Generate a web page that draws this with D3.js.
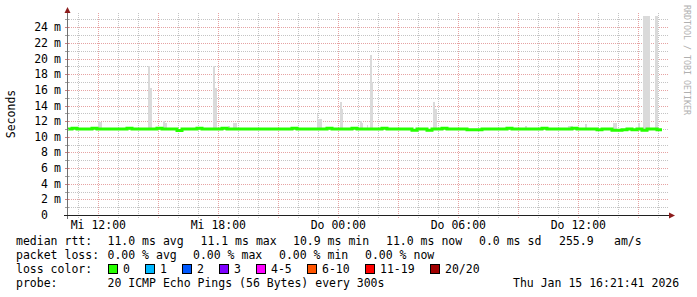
<!DOCTYPE html>
<html>
<head>
<meta charset="utf-8" />
<style>
    body { margin: 0; background: #fff; }
    svg { display: block; }
    text {
        font-family: "DejaVu Sans Mono", monospace;
        font-size: 11.5px;
        fill: #000;
    }
    .grid-minor { stroke: #c4c4c4; stroke-dasharray: 1,1; shape-rendering: crispEdges; }
    .grid-major { stroke: #e6a3a3; stroke-dasharray: 1,1; shape-rendering: crispEdges; }
    .watermark { font-size: 8.3px; fill: #b0b0b0; }
</style>
</head>
<body>
<div id="chart"></div>
<script src="https://d3js.org/d3.v7.min.js"></script>
<script>
    // median rtt (ms), one value every 15 minutes from the start of the graph
    var medianStart = Date.UTC(2026, 0, 14, 10, 26);
    var medianStepMin = 15;
    var medianRtt = [
        11.0, 11.1, 11.0, 11.0, 11.0, 11.1, 11.0, 11.0, 11.0, 11.0,
        11.0, 11.0, 11.1, 11.0, 11.0, 11.0, 11.0, 11.0, 11.1, 11.0,
        11.0, 11.0, 10.8, 11.0, 11.0, 11.0, 11.1, 11.0, 11.0, 11.0,
        11.0, 11.1, 11.0, 11.0, 11.0, 11.0, 11.0, 11.0, 11.0, 11.0,
        11.0, 11.0, 11.0, 11.0, 11.0, 11.1, 11.0, 11.0, 11.0, 11.0,
        11.0, 11.0, 11.1, 11.0, 11.0, 11.0, 11.0, 11.1, 11.0, 11.0,
        11.0, 11.0, 11.0, 11.1, 11.0, 11.0, 11.0, 11.0, 11.0, 10.85,
        11.0, 11.0, 10.85, 11.0, 11.0, 11.1, 11.0, 11.0, 11.0, 11.0,
        10.9, 10.9, 10.9, 11.0, 11.0, 11.0, 11.0, 11.0, 11.1, 11.0,
        11.0, 11.0, 11.0, 11.0, 11.0, 11.1, 11.0, 11.0, 11.0, 11.0,
        11.0, 11.1, 11.0, 11.0, 11.0, 11.0, 10.9, 11.0, 11.0, 10.85,
        10.85, 10.9, 11.0, 10.9, 11.0, 10.85, 11.0, 11.0, 10.9
    ];

    // smoke (spread of the 20 pings) where it sticks out of the median line
    var smokeTimes = [
        '2026-01-14T12:00', '2026-01-14T12:05', '2026-01-14T14:30', '2026-01-14T14:35',
        '2026-01-14T15:15', '2026-01-14T15:20', '2026-01-14T17:45', '2026-01-14T17:50',
        '2026-01-14T18:30', '2026-01-14T18:45', '2026-01-14T18:50', '2026-01-14T22:55',
        '2026-01-14T23:00', '2026-01-14T23:05', '2026-01-15T00:05', '2026-01-15T00:10',
        '2026-01-15T01:05', '2026-01-15T01:10', '2026-01-15T01:25', '2026-01-15T01:35',
        '2026-01-15T01:40', '2026-01-15T04:45', '2026-01-15T04:50', '2026-01-15T09:20',
        '2026-01-15T11:30', '2026-01-15T11:35', '2026-01-15T11:40', '2026-01-15T12:20',
        '2026-01-15T13:45', '2026-01-15T13:50', '2026-01-15T15:00', '2026-01-15T15:15',
        '2026-01-15T15:20', '2026-01-15T15:25', '2026-01-15T15:30', '2026-01-15T15:50',
        '2026-01-15T15:55'
    ];
    var smokeHigh = [
        12.0, 11.9, 19.0, 16.2,
        12.0, 11.7, 19.0, 16.2,
        11.4, 11.7, 11.7, 12.9,
        12.3, 12.3, 14.5, 13.6,
        12.0, 11.7, 11.5, 20.5,
        17.0, 14.4, 13.6, 11.4,
        11.4, 11.4, 11.4, 11.6,
        11.7, 11.7, 11.7, 25.5,
        25.5, 25.5, 25.5, 25.5,
        25.5
    ];
    var smokeLow = 10.9;

    var yTicks = [0, 2, 4, 6, 8, 10, 12, 14, 16, 18, 20, 22, 24];
    var dayNames = ['So', 'Mo', 'Di', 'Mi', 'Do', 'Fr', 'Sa'];

    var statRows = [
        { y: 245, items: [[16, 'median rtt:'], [107.5, '11.0 ms avg'], [200.5, '11.1 ms max'],
            [293, '10.9 ms min'], [386, '11.0 ms now'], [479, '0.0 ms sd'], [559, '255.9'], [614, 'am/s']] },
        { y: 259, items: [[16, 'packet loss:'], [107.5, '0.00 % avg'], [193, '0.00 % max'],
            [279, '0.00 % min'], [365, '0.00 % now']] },
        { y: 273, items: [[16, 'loss color:']] },
        { y: 287, items: [[16, 'probe:'], [107.5, '20 ICMP Echo Pings (56 Bytes) every 300s'],
            [513, 'Thu Jan 15 16:21:41 2026']] }
    ];
    var lossLabels = ['0', '1', '2', '3', '4-5', '6-10', '11-19', '20/20'];
    var lossColors = ['#26ff00', '#00b8ff', '#0059ff', '#7e00ff', '#ff00ff', '#ff5500', '#ff0000', '#a10000'];
    var lossBoxX = [108, 145, 182, 219, 256, 307, 365, 430];

(function(d3) {
    'use strict';

    var width = 697, height = 297;
    var plotLeft = 67, plotRight = 667, plotBottom = 215, plotTop = 14;

    var svg = d3.select('#chart').append('svg')
        .attr('width', width)
        .attr('height', height);

    var x = d3.scaleUtc()
        .domain([new Date(Date.UTC(2026, 0, 14, 10, 26)), new Date(Date.UTC(2026, 0, 15, 16, 26))])
        .range([plotLeft, plotRight]);
    var y = d3.scaleLinear()
        .domain([0, 25.7])
        .range([plotBottom, plotTop]);

    function px(v) { return Math.round(v) + 0.5; }

    // horizontal grid, 1 ms minor / 2 ms major
    svg.append('g').selectAll('line')
        .data(d3.range(1, 26))
        .enter().append('line')
        .attr('class', function(d) { return d % 2 === 0 ? 'grid-major' : 'grid-minor'; })
        .attr('x1', plotLeft).attr('x2', plotRight + 2)
        .attr('y1', function(d) { return px(y(d)); })
        .attr('y2', function(d) { return px(y(d)); });

    // vertical grid, hourly minor / 3 hours major
    var hours = d3.utcHour.range(x.domain()[0], x.domain()[1]);
    svg.append('g').selectAll('line')
        .data(hours)
        .enter().append('line')
        .attr('class', function(d) { return d.getUTCHours() % 3 === 0 ? 'grid-major' : 'grid-minor'; })
        .attr('x1', function(d) { return px(x(d)); })
        .attr('x2', function(d) { return px(x(d)); })
        .attr('y1', plotTop - 1).attr('y2', plotBottom + 3);

    // smoke
    svg.append('clipPath').attr('id', 'clip')
        .append('rect')
        .attr('x', plotLeft).attr('y', plotTop)
        .attr('width', plotRight - plotLeft).attr('height', plotBottom - plotTop);
    var plot = svg.append('g').attr('clip-path', 'url(#clip)');

    plot.selectAll('rect.smoke')
        .data(smokeTimes)
        .enter().append('rect')
        .attr('class', 'smoke')
        .attr('x', function(d) { return x(new Date(d + 'Z')); })
        .attr('width', function(d) {
            var t = new Date(d + 'Z');
            return x(d3.utcMinute.offset(t, 5)) - x(t);
        })
        .attr('y', function(d, i) { return y(smokeHigh[i]); })
        .attr('height', function(d, i) { return y(smokeLow) - y(smokeHigh[i]); })
        .attr('fill', '#dadada')
        .attr('shape-rendering', 'crispEdges');

    // median line, coloured by loss (no loss -> green)
    var medianPts = medianRtt.map(function(v, i) {
        return { t: new Date(medianStart + i * medianStepMin * 60000), v: v };
    });
    medianPts.push({
        t: new Date(medianStart + medianRtt.length * medianStepMin * 60000),
        v: medianRtt[medianRtt.length - 1]
    });
    var line = d3.line()
        .x(function(d) { return x(d.t); })
        .y(function(d) { return y(d.v); })
        .curve(d3.curveStepAfter);
    plot.append('path')
        .datum(medianPts)
        .attr('d', line)
        .attr('fill', 'none')
        .attr('stroke', lossColors[0])
        .attr('stroke-width', 3);

    // y axis ticks
    svg.append('g').selectAll('line')
        .data(d3.range(1, 26))
        .enter().append('line')
        .attr('x1', plotLeft - 2).attr('x2', plotLeft + 2)
        .attr('y1', function(d) { return px(y(d)); })
        .attr('y2', function(d) { return px(y(d)); })
        .attr('stroke', function(d) { return d % 2 === 0 ? '#d08080' : '#a0a0a0'; })
        .attr('shape-rendering', 'crispEdges');

    // axes
    svg.append('line')
        .attr('x1', px(plotLeft)).attr('x2', px(plotLeft))
        .attr('y1', plotBottom + 4).attr('y2', 10)
        .attr('stroke', '#707070').attr('shape-rendering', 'crispEdges');
    svg.append('line')
        .attr('x1', plotLeft - 3).attr('x2', 671)
        .attr('y1', px(plotBottom)).attr('y2', px(plotBottom))
        .attr('stroke', '#202020').attr('shape-rendering', 'crispEdges');
    svg.append('path')
        .attr('d', 'M' + (plotLeft + 0.5) + ',7 L' + (plotLeft + 3.5) + ',13 L' + (plotLeft - 2.5) + ',13 Z')
        .attr('fill', '#8c1c1c');
    svg.append('path')
        .attr('d', 'M675,' + (plotBottom + 0.5) + ' L669,' + (plotBottom - 2.5) + ' L669,' + (plotBottom + 3.5) + ' Z')
        .attr('fill', '#8c1c1c');

    // y labels
    var yl = svg.append('g').selectAll('g')
        .data(yTicks)
        .enter().append('g')
        .attr('transform', function(d) { return 'translate(0,' + (y(d) + 4) + ')'; });
    yl.append('text')
        .attr('x', 48)
        .attr('text-anchor', 'end')
        .text(function(d) { return d; });
    yl.filter(function(d) { return d !== 0; })
        .append('text')
        .attr('x', 54)
        .text('m');

    // x labels every 6 hours
    var labelTimes = d3.utcHour.every(6).range(x.domain()[0], x.domain()[1]);
    svg.append('g').selectAll('text')
        .data(labelTimes)
        .enter().append('text')
        .attr('x', function(d) { return x(d); })
        .attr('y', 229)
        .attr('text-anchor', 'middle')
        .text(function(d) { return dayNames[d.getUTCDay()] + ' ' + d3.utcFormat('%H:%M')(d); });

    // titles
    svg.append('text')
        .attr('transform', 'translate(15,114) rotate(-90)')
        .attr('text-anchor', 'middle')
        .text('Seconds');
    svg.append('text')
        .attr('class', 'watermark')
        .attr('transform', 'translate(684,5) rotate(90)')
        .text('RRDTOOL / TOBI OETIKER');

    // legend text
    statRows.forEach(function(row) {
        svg.append('g').selectAll('text')
            .data(row.items)
            .enter().append('text')
            .attr('x', function(d) { return d[0]; })
            .attr('y', row.y)
            .style('white-space', 'pre')
            .text(function(d) { return d[1]; });
    });

    var lg = svg.append('g').selectAll('g')
        .data(lossLabels)
        .enter().append('g')
        .attr('transform', function(d, i) { return 'translate(' + lossBoxX[i] + ',264)'; });
    lg.append('rect')
        .attr('x', 0.5).attr('y', 0.5)
        .attr('width', 9).attr('height', 9)
        .attr('fill', function(d, i) { return lossColors[i]; })
        .attr('stroke', '#000')
        .attr('shape-rendering', 'crispEdges');
    lg.append('text')
        .attr('x', 15)
        .attr('y', 9)
        .text(function(d) { return d; });

})(window.d3);
</script>
</body>
</html>
